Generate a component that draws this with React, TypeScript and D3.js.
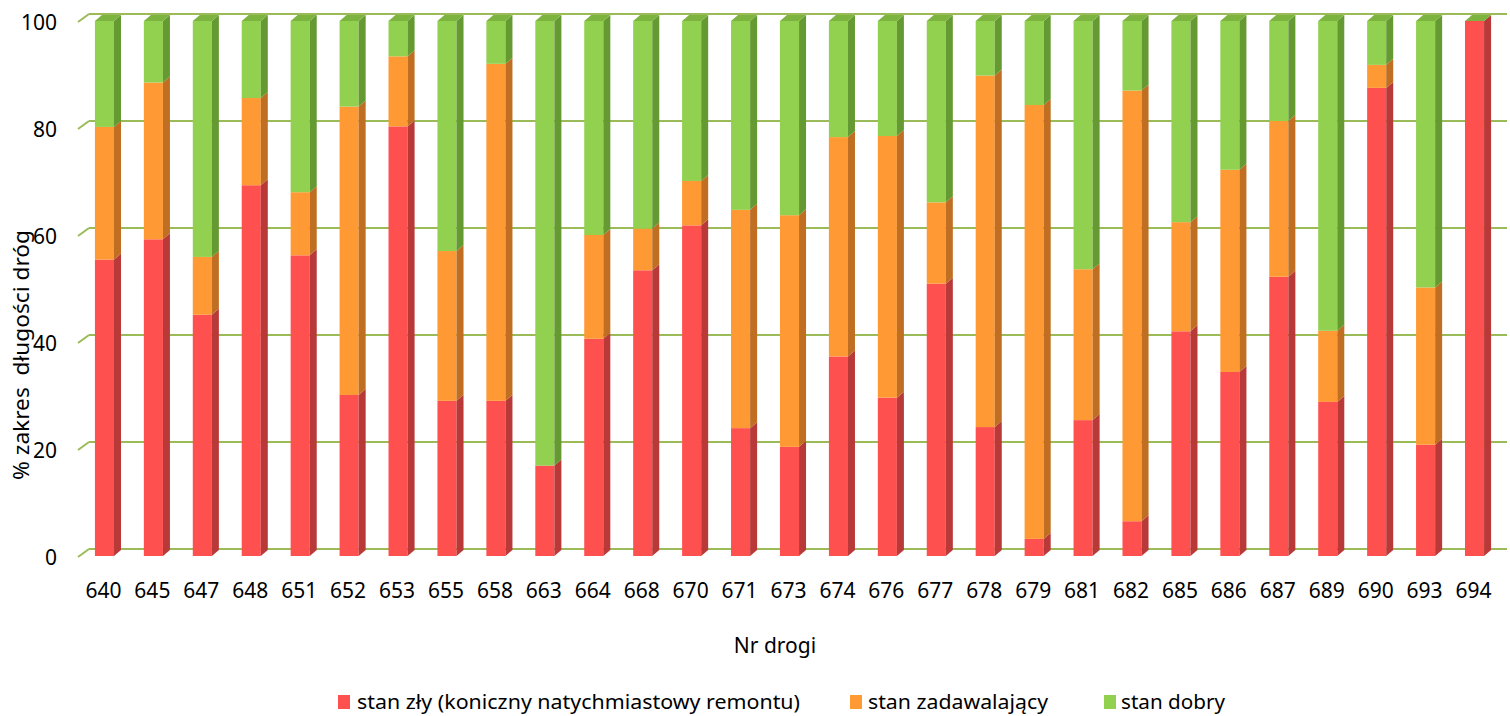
import React from "react";
import * as d3 from "d3";

const categories = ["640","645","647","648","651","652","653","655","658","663","664","668","670","671","673","674","676","677","678","679","681","682","685","686","687","689","690","693","694"];
const badValues = [55.4,59.2,45.1,69.3,56.2,30.1,80.3,29.0,29.0,16.9,40.6,53.4,61.8,23.9,20.4,37.3,29.6,50.9,24.1,3.2,25.4,6.5,42.0,34.4,52.2,28.8,87.5,20.8,100];
const okValues = [24.8,29.3,10.8,16.3,11.8,53.9,13.1,28.0,63.0,0,19.4,7.8,8.3,40.8,43.3,41.0,48.9,15.2,65.7,81.1,28.2,80.5,20.4,37.8,29.1,13.3,4.3,29.4,0];
const goodValues = [19.8,11.5,44.1,14.4,32.0,16.0,6.6,43.0,8.0,83.1,40.0,38.8,29.9,35.3,36.3,21.7,21.5,33.9,10.2,15.7,46.4,13.0,37.6,27.8,18.7,57.9,8.2,49.8,0];
const yTicks = [0,20,40,60,80,100];
const seriesNames = ["stan zły (koniczny natychmiastowy remontu)","stan zadawalający","stan dobry"];

const FRONT = ["#FF5050","#FF9933","#92D050"];
const SIDE = ["#B93838","#BF6E22","#659A33"];
const TOPC = "#7DB43F";
const GRID = "#9BBB59";
const FONT = "'Noto Sans', 'Open Sans', sans-serif";

export default function App() {
  const W = 1510, H = 716;
  const x = d3.scaleBand<string>().domain(categories).range([80, 1499]).paddingInner(0.61).paddingOuter(0.305);
  const y = d3.scaleLinear().domain([0, 100]).range([556, 21]);
  const dx = 7, dy = -6;
  const gdx = 10, gdy = -8;

  const stack = categories.map((c, i) => {
    const vals = [badValues[i], okValues[i], goodValues[i]];
    let acc = 0;
    return vals.map((v, s) => {
      const y0 = acc;
      acc += v;
      return { s, y0, y1: Math.min(acc, 100) };
    });
  });

  const legendItems = [
    { x: 338, tx: 357, w: 443 },
    { x: 850, tx: 868, w: 180 },
    { x: 1104, tx: 1121, w: 104 },
  ];

  return (
    <svg width={W} height={H} style={{ position: "absolute", left: 0, top: 0, background: "#fff" }}>
      <rect x={0} y={0} width={W} height={H} fill="#fff" />
      {yTicks.map((t) => (
        <g key={t}>
          <line x1={78} y1={y(t) + 1} x2={78 + gdx + 1} y2={y(t) + 1 + gdy} stroke={GRID} strokeWidth={2} />
          <line x1={78 + gdx + 1} y1={y(t) + 1 + gdy} x2={1507} y2={y(t) + 1 + gdy} stroke={GRID} strokeWidth={2} />
          <text x={57} y={y(t) + 1} textAnchor="end" dominantBaseline="central" fontFamily={FONT} fontSize={21} fill="#000">{t}</text>
        </g>
      ))}
      {categories.map((c, i) => {
        const bx = x(c)!;
        const bw = x.bandwidth();
        const segs = stack[i];
        const topY = y(segs[2].y1);
        return (
          <g key={c}>
            {segs.map((sg) => {
              if (sg.y1 - sg.y0 <= 0) return null;
              const yt = y(sg.y1), yb = y(sg.y0);
              return (
                <g key={sg.s}>
                  <rect x={bx} y={yt} width={bw} height={yb - yt} fill={FRONT[sg.s]} />
                  <polygon
                    points={`${bx + bw},${yt} ${bx + bw + dx},${yt + dy} ${bx + bw + dx},${yb + dy} ${bx + bw},${yb}`}
                    fill={SIDE[sg.s]}
                  />
                </g>
              );
            })}
            <polygon
              points={`${bx},${topY} ${bx + dx},${topY + dy} ${bx + bw + dx},${topY + dy} ${bx + bw},${topY}`}
              fill={TOPC}
            />
            <text x={bx + bw / 2 - 1} y={590} textAnchor="middle" dominantBaseline="central" fontFamily={FONT} fontSize={21} fill="#000">{c}</text>
          </g>
        );
      })}
      <text x={775} y={645} textAnchor="middle" dominantBaseline="central" fontFamily={FONT} fontSize={21} fill="#000">Nr drogi</text>
      <text transform={`translate(20,355) rotate(-90)`} textAnchor="middle" dominantBaseline="central" fontFamily={FONT} fontSize={22} fill="#000" textLength={250} lengthAdjust="spacingAndGlyphs" style={{ whiteSpace: "pre" }}>{"% zakres  długości dróg"}</text>
      {seriesNames.map((n, s) => (
        <g key={n}>
          <rect x={legendItems[s].x} y={695} width={12} height={14} fill={FRONT[s]} />
          <text x={legendItems[s].tx} y={701} dominantBaseline="central" fontFamily={FONT} fontSize={20} fill="#000" textLength={legendItems[s].w} lengthAdjust="spacingAndGlyphs">{n}</text>
        </g>
      ))}
    </svg>
  );
}
